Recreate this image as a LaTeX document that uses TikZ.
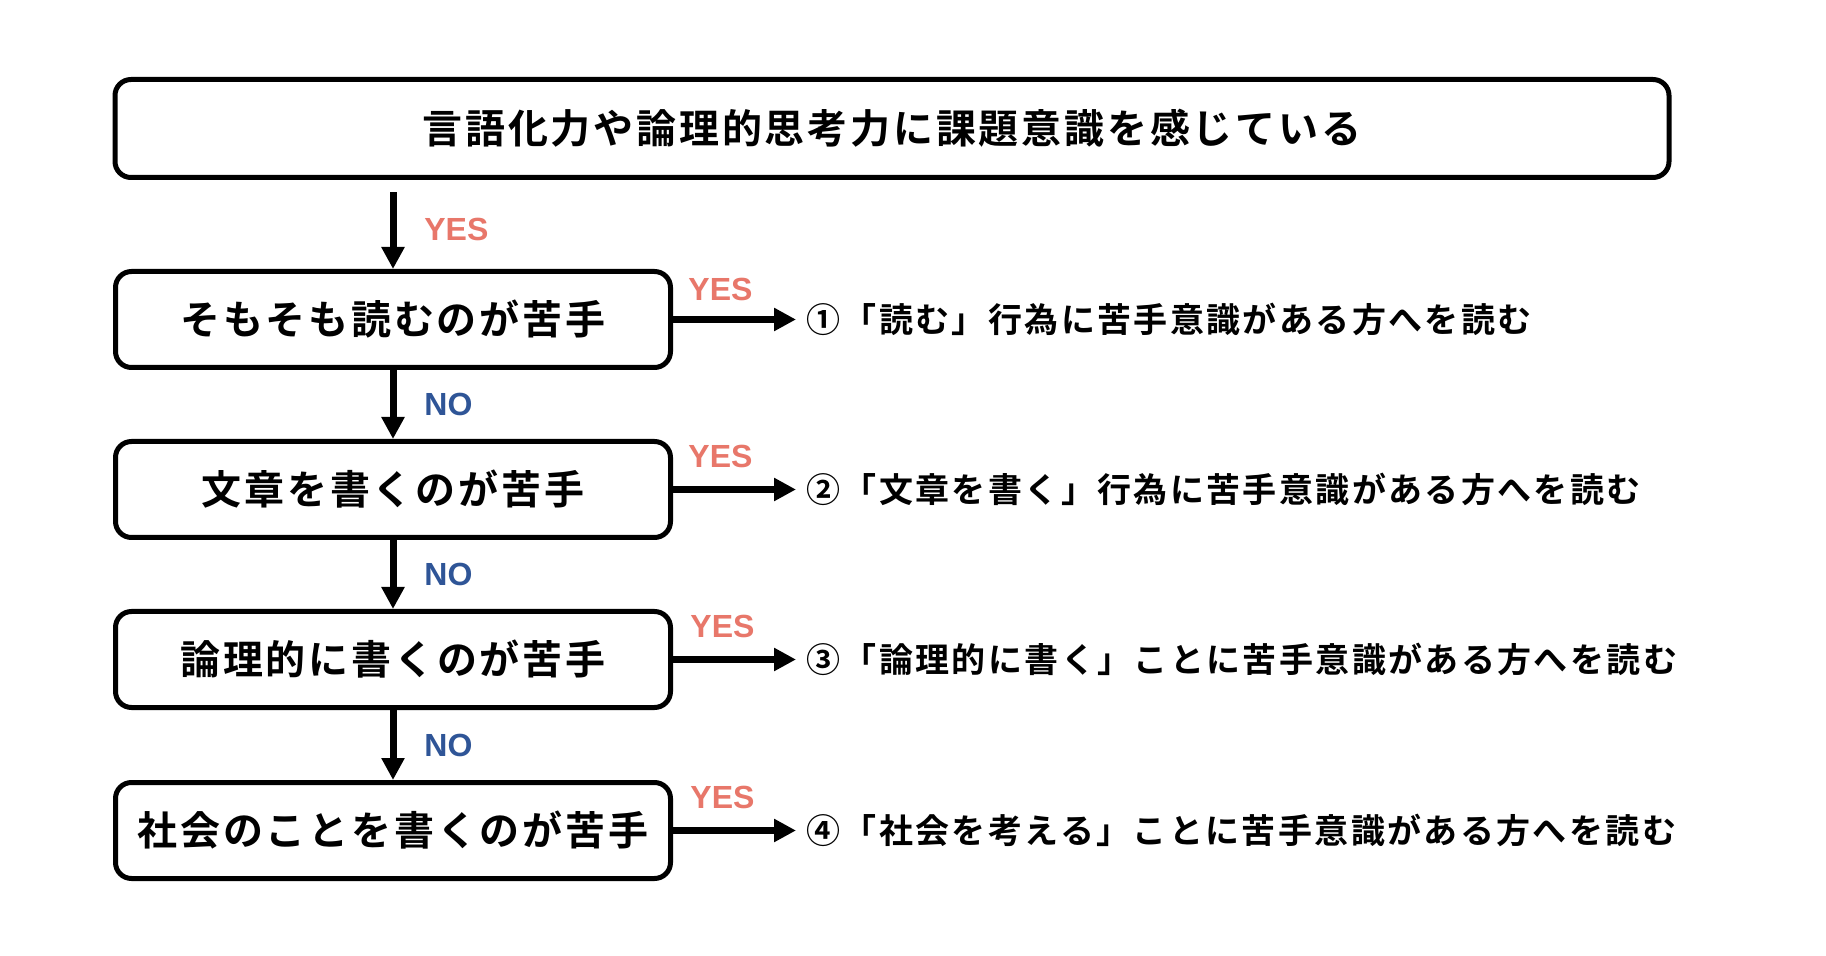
\documentclass[tikz,border=0pt]{standalone}
\usepackage{fontspec}
\usetikzlibrary{arrows.meta}
\newfontfamily\cjkb{Noto Sans CJK JP Bold}[LetterSpace=7]
\newfontfamily\latf{Liberation Sans Bold}
\definecolor{yescol}{HTML}{E8776A}
\definecolor{nocol}{HTML}{2F5597}
\begin{document}
\begin{tikzpicture}[x=0.5pt,y=-0.5pt,
  box/.style={draw=black, line width=2.5pt, rounded corners=8pt, inner sep=0pt,
    font=\cjkb\fontsize{20pt}{24pt}\selectfont},
  arr/.style={line width=3.5pt, -{Triangle[length=11pt,width=11pt]}},
  res/.style={anchor=west, inner sep=0pt, font=\cjkb\fontsize{17pt}{20pt}\selectfont},
  yeslab/.style={anchor=west, inner sep=0pt, text=yescol, font=\latf\fontsize{16pt}{18pt}\selectfont},
  nolab/.style={anchor=west, inner sep=0pt, text=nocol, font=\latf\fontsize{16pt}{18pt}\selectfont}]
\fill[white] (0,0) rectangle (1826,956);
\useasboundingbox (0,0) rectangle (1826,956);

\node[box, minimum width=777pt, minimum height=49pt] (top) at (892,128.5)
  {言語化力や論理的思考力に課題意識を感じている};

\node[box, minimum width=277.5pt, minimum height=48pt] (b1) at (393,319.5) {そもそも読むのが苦手};
\node[box, minimum width=277.5pt, minimum height=48pt] (b2) at (393,489.5) {文章を書くのが苦手};
\node[box, minimum width=277.5pt, minimum height=48pt] (b3) at (393,659.5) {論理的に書くのが苦手};
\node[box, minimum width=277.5pt, minimum height=48pt] (b4) at (393,830.5) {社会のことを書くのが苦手};

\node[res] (r1) at (806,319.5) {①「読む」行為に苦手意識がある方へを読む};
\node[res] (r2) at (806,489.5) {②「文章を書く」行為に苦手意識がある方へを読む};
\node[res] (r3) at (806,659.5) {③「論理的に書く」ことに苦手意識がある方へを読む};
\node[res] (r4) at (806,830.5) {④「社会を考える」ことに苦手意識がある方へを読む};

\draw[arr] ([yshift=-6.25pt]b1.north |- top.south) -- (b1.north);
\draw[arr] (b1.south) -- (b2.north);
\draw[arr] (b2.south) -- (b3.north);
\draw[arr] (b3.south) -- (b4.north);

\draw[arr] (b1.east) -- ([xshift=-5pt]r1.west);
\draw[arr] (b2.east) -- ([xshift=-5pt]r2.west);
\draw[arr] (b3.east) -- ([xshift=-5pt]r3.west);
\draw[arr] (b4.east) -- ([xshift=-5pt]r4.west);

\node[yeslab] (y0) at (424,229) {YES};
\node[nolab] (n1) at (424,404.5) {NO};
\node[nolab] (n2) at (424,574.5) {NO};
\node[nolab] (n3) at (424,745) {NO};

\node[yeslab] (y1) at (688,289) {YES};
\node[yeslab] (y2) at (688,456) {YES};
\node[yeslab] (y3) at (690,626) {YES};
\node[yeslab] (y4) at (690,797) {YES};
\end{tikzpicture}
\end{document}
